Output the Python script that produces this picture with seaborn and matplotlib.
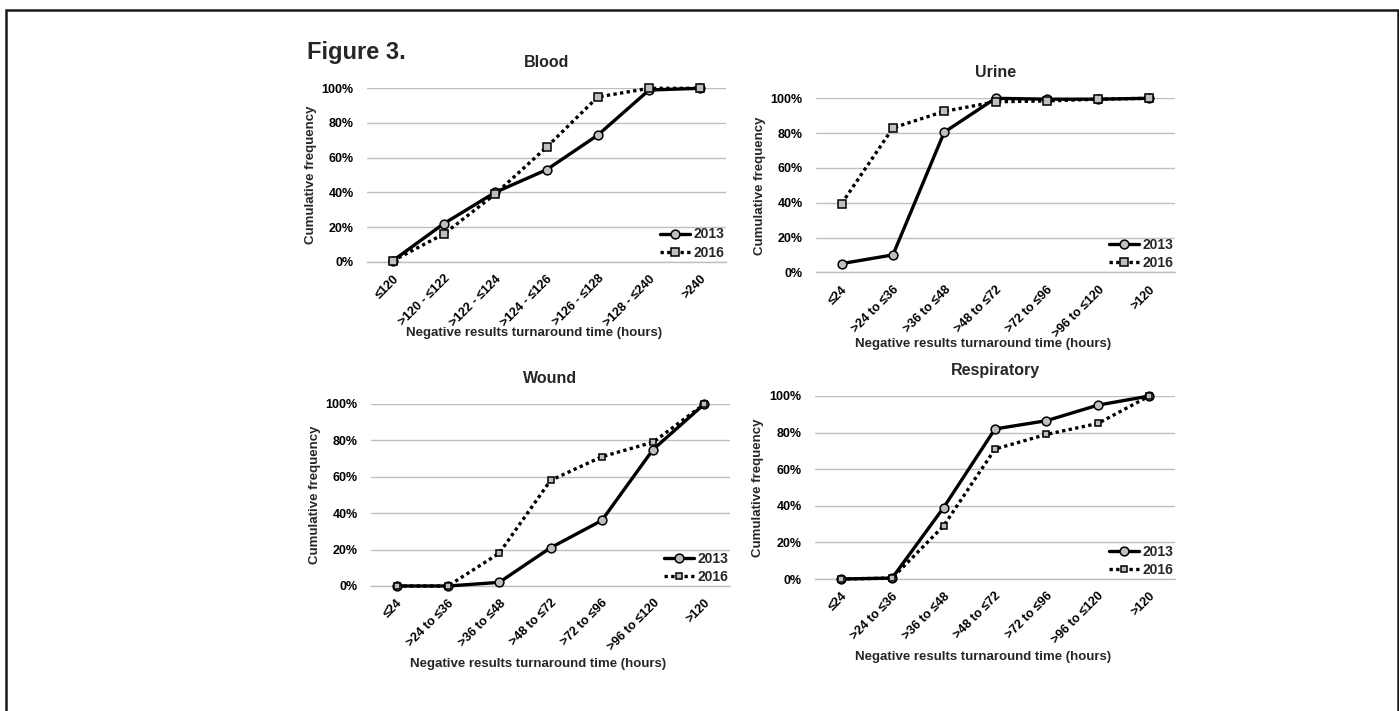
import matplotlib
matplotlib.use("Agg")
import matplotlib.pyplot as plt
import seaborn as sns
from matplotlib.ticker import PercentFormatter
from matplotlib.patches import Rectangle

# categories (x axis)
blood_cats = ["≤120", ">120 - ≤122", ">122 - ≤124", ">124 - ≤126",
              ">126 - ≤128", ">128 - ≤240", ">240"]
hour_cats = ["≤24", ">24 to ≤36", ">36 to ≤48", ">48 to ≤72",
             ">72 to ≤96", ">96 to ≤120", ">120"]

# cumulative frequency (%)
blood_2013 = [0.5, 22, 40, 53, 73, 99, 100]
blood_2016 = [0.5, 16, 39, 66, 95, 100, 100]
urine_2013 = [5, 10, 80.5, 100, 99.5, 99.5, 100]
urine_2016 = [39.5, 83, 92.5, 98, 98.5, 99.5, 100]
wound_2013 = [0, 0, 2, 21, 36, 75, 100]
wound_2016 = [0, 0, 18, 58, 71, 79, 100]
resp_2013 = [0, 0.5, 39, 82, 86.5, 95, 100]
resp_2016 = [0, 0.5, 29, 71, 79, 85, 100]

years = ["2013", "2016"]
xlabel = "Negative results turnaround time (hours)"
ylabel = "Cumulative frequency"

sns.set_theme(style="white")
plt.rcParams["font.family"] = ["Liberation Sans", "DejaVu Sans"]
plt.rcParams["font.weight"] = "bold"
plt.rcParams["axes.titleweight"] = "bold"
plt.rcParams["axes.labelweight"] = "bold"

W, H = 1399, 711
fig = plt.figure(figsize=(W / 100, H / 100), dpi=100)
fig.patch.set_facecolor("white")

# (title, cats, 2013, 2016, pixel box left/top/right/bottom, square size, xlabel offset)
panels = [
    ("Blood", blood_cats, blood_2013, blood_2016, (367, 88.3, 726, 261.7), 6.3, 71),
    ("Urine", hour_cats, urine_2013, urine_2016, (816, 98.3, 1175, 272.3), 6.3, 72),
    ("Wound", hour_cats, wound_2013, wound_2016, (371, 404, 730, 586), 4.5, 78),
    ("Respiratory", hour_cats, resp_2013, resp_2016, (815, 396, 1175, 579), 4.5, 78),
]

grey = "#BFBFBF"

for title, cats, v13, v16, (l, t, r, b), sq, xoff in panels:
    w, h = r - l, b - t
    ax = fig.add_axes([l / W, 1 - b / H, w / W, h / H])

    sns.lineplot(x=cats, y=[v / 100 for v in v13], ax=ax, sort=False,
                 color="black", lw=2.4, marker="o", ms=6.3,
                 markerfacecolor=grey, markeredgecolor="black", markeredgewidth=1.1,
                 label=years[0], clip_on=False, zorder=3)
    sns.lineplot(x=cats, y=[v / 100 for v in v16], ax=ax, sort=False,
                 color="black", lw=2.4, linestyle=(0, (1, 1)), marker="s", ms=sq,
                 markerfacecolor=grey, markeredgecolor="black", markeredgewidth=1.1,
                 label=years[1], clip_on=False, zorder=4)

    ax.set_xlim(-0.5, len(cats) - 0.5)
    ax.set_ylim(0, 1)
    ax.set_yticks([0, 0.2, 0.4, 0.6, 0.8, 1.0])
    ax.yaxis.set_major_formatter(PercentFormatter(1.0, decimals=0))
    ax.yaxis.grid(True, color=grey, lw=1)
    ax.xaxis.grid(False)
    for s in ["left", "right", "top"]:
        ax.spines[s].set_visible(False)
    ax.spines["bottom"].set_color(grey)
    ax.spines["bottom"].set_linewidth(1)
    ax.tick_params(axis="both", length=0, labelsize=9, colors="black")
    ax.tick_params(axis="y", pad=9.5)
    ax.tick_params(axis="x", pad=8)
    plt.setp(ax.get_xticklabels(), rotation=45, ha="right", va="top",
             rotation_mode="anchor")

    ax.set_title(title, fontsize=11.5, y=1 + 25.5 / h, pad=0, va="center")
    ax.set_xlabel(xlabel, fontsize=9.5, va="center")
    ax.xaxis.set_label_coords(0.5 - 12 / w, -xoff / h)
    ax.set_ylabel(ylabel, fontsize=9.5, va="center")
    ax.yaxis.set_label_coords(-0.157, 0.5)

    ax.legend(loc="lower right", frameon=False, fontsize=10, handlelength=2.2,
              handletextpad=0.2, labelspacing=0.3, borderaxespad=0.0,
              borderpad=0.15)

fig.text(307 / W, 1 - 53 / H, "Figure 3.", fontsize=17, weight="bold",
         ha="left", va="center")

# outer frame of the original figure panel
fig.patches.append(Rectangle((6 / W, -0.05), (1398 - 6) / W, 1.05 - 9.5 / H,
                             transform=fig.transFigure, fill=False,
                             edgecolor="#1a1a1a", lw=1.8, zorder=10))

fig.savefig("out.png", dpi=100)
